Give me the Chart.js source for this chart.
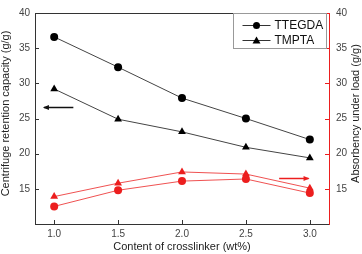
<!DOCTYPE html>
<html><head><meta charset="utf-8">
<script src="https://cdn.jsdelivr.net/npm/chart.js@4"></script>
<style>html,body{margin:0;padding:0;background:#fff}#w{width:362px;height:254px;position:relative}</style>
</head><body><div id="w"><canvas id="c" width="362" height="254"></canvas></div>
<script>
const crosslinker = [1.0, 1.5, 2.0, 2.5, 3.0];
const crcTTEGDA = [36.6, 32.3, 27.9, 25.0, 22.0];
const crcTMPTA = [29.2, 24.9, 23.1, 20.9, 19.4];
const aulTTEGDA = [12.5, 14.8, 16.1, 16.4, 14.4];
const aulTMPTA = [13.9, 15.8, 17.4, 17.1, 15.1];
const xTicks = [1.0, 1.5, 2.0, 2.5, 3.0];
const yTicks = [15, 20, 25, 30, 35, 40];
const seriesNames = ['TTEGDA', 'TMPTA'];
const xTitle = 'Content of crosslinker (wt%)';
const yLeftTitle = 'Centrifuge retention capacity (g/g)';
const yRightTitle = 'Absorbency under load (g/g)';

const RED = 'rgb(236,30,30)';
const REDLINE = 'rgba(236,50,50,0.85)';
const BLK = '#000';
const pts = a => a.map((v, i) => ({x: crosslinker[i], y: v}));

const FONT = '"Liberation Sans", Arial, sans-serif';

const extras = {
  id: 'extras',
  afterDraw(chart) {
    const ctx = chart.ctx, a = chart.chartArea;
    const x = chart.scales.x, yl = chart.scales.y, yr = chart.scales.y2;
    ctx.save();
    // top border
    ctx.strokeStyle = '#333'; ctx.lineWidth = 1;
    ctx.beginPath(); ctx.moveTo(a.left, a.top + 0.5); ctx.lineTo(a.right, a.top + 0.5); ctx.stroke();
    // inward ticks
    ctx.beginPath();
    xTicks.forEach(v => { const px = Math.round(x.getPixelForValue(v)) + 0.5; ctx.moveTo(px, a.bottom); ctx.lineTo(px, a.bottom - 4); });
    yTicks.forEach(v => { const py = Math.round(yl.getPixelForValue(v)) + 0.5; ctx.moveTo(a.left, py); ctx.lineTo(a.left + 4, py); });
    ctx.stroke();
    ctx.strokeStyle = RED; ctx.beginPath();
    yTicks.forEach(v => { const py = Math.round(yr.getPixelForValue(v)) + 0.5; ctx.moveTo(a.right, py); ctx.lineTo(a.right - 4, py); });
    ctx.stroke();
    // axis titles
    ctx.fillStyle = '#222'; ctx.font = '11px ' + FONT; ctx.textAlign = 'center'; ctx.textBaseline = 'middle';
    ctx.fillText(xTitle, (a.left + a.right) / 2, 247);
    ctx.save(); ctx.translate(6, (a.top + a.bottom) / 2 - 5); ctx.rotate(-Math.PI / 2); ctx.fillText(yLeftTitle, 0, 0); ctx.restore();
    ctx.save(); ctx.translate(356, (a.top + a.bottom) / 2 - 5); ctx.rotate(-Math.PI / 2); ctx.fillText(yRightTitle, 0, 0); ctx.restore();
    // arrows
    const arrow = (x1, x2, yv, scale, col) => {
      const y = Math.round(scale.getPixelForValue(yv)) + 0.5;
      const p1 = x.getPixelForValue(x1), p2 = x.getPixelForValue(x2);
      ctx.strokeStyle = col; ctx.fillStyle = col; ctx.lineWidth = 1.5;
      ctx.beginPath(); ctx.moveTo(p1, y); ctx.lineTo(p2, y); ctx.stroke();
      const d = Math.sign(p2 - p1);
      ctx.beginPath(); ctx.moveTo(p2 + d * 1, y); ctx.lineTo(p2 - d * 5, y - 2.5); ctx.lineTo(p2 - d * 5, y + 2.5); ctx.closePath(); ctx.fill();
    };
    arrow(1.15, 0.92, 26.6, yl, '#111');
    arrow(2.76, 2.99, 16.6, yr, RED);
    // legend
    const lx = Math.round(x.getPixelForValue(2.40)) + 0.5, rx = a.right - 2.5;
    ctx.fillStyle = '#fff';
    ctx.fillRect(lx, a.top + 0.5, rx - lx, 35);
    ctx.strokeStyle = '#999'; ctx.lineWidth = 1;
    ctx.strokeRect(lx, a.top + 0.5, rx - lx, 35);
    ctx.font = '12px ' + FONT; ctx.textAlign = 'left'; ctx.fillStyle = '#111';
    seriesNames.forEach((n, i) => {
      const y = a.top + 12 + i * 15;
      ctx.strokeStyle = '#333'; ctx.lineWidth = 1;
      ctx.beginPath(); ctx.moveTo(lx + 9, y + 0.5); ctx.lineTo(lx + 37, y + 0.5); ctx.stroke();
      ctx.fillStyle = '#000';
      ctx.beginPath();
      if (i === 0) { ctx.arc(lx + 23, y + 0.5, 3.5, 0, Math.PI * 2); }
      else { ctx.moveTo(lx + 23, y - 3.5); ctx.lineTo(lx + 27, y + 3.5); ctx.lineTo(lx + 19, y + 3.5); ctx.closePath(); }
      ctx.fill();
      ctx.fillStyle = '#111';
      ctx.fillText(n, lx + 41, y + 1);
    });
    ctx.restore();
  }
};

const ds = (label, data, axis, pstyle, col, lcol) => ({
  label, data: pts(data), yAxisID: axis, borderColor: lcol, backgroundColor: col,
  pointBackgroundColor: col, pointBorderColor: col, pointStyle: pstyle,
  pointRadius: pstyle === 'triangle' ? 4.5 : 4, pointBorderWidth: 0, borderWidth: 1, tension: 0
});

new Chart(document.getElementById('c'), {
  type: 'line',
  data: { datasets: [
    ds(seriesNames[0], crcTTEGDA, 'y', 'circle', BLK, '#444'),
    ds(seriesNames[1], crcTMPTA, 'y', 'triangle', BLK, '#444'),
    ds(seriesNames[0] + ' AUL', aulTTEGDA, 'y2', 'circle', RED, REDLINE),
    ds(seriesNames[1] + ' AUL', aulTMPTA, 'y2', 'triangle', RED, REDLINE)
  ]},
  options: {
    responsive: false, animation: false, devicePixelRatio: 1,
    layout: { padding: { top: 8, left: 0, right: 0, bottom: 0 } },
    plugins: { legend: { display: false }, tooltip: { enabled: false } },
    scales: {
      x: {
        type: 'linear', min: 0.85, max: 3.15,
        afterBuildTicks: s => { s.ticks = xTicks.map(v => ({value: v})); },
        afterFit: s => { s.height = 30; },
        grid: { display: true, drawOnChartArea: false, drawTicks: false },
        border: { color: '#333', width: 1 },
        ticks: { padding: 4, color: '#444', font: { size: 10, family: FONT }, callback: v => Number(v).toFixed(1) }
      },
      y: {
        position: 'left', min: 10, max: 40,
        afterBuildTicks: s => { s.ticks = yTicks.map(v => ({value: v})); },
        afterFit: s => { s.width = 35; },
        grid: { drawOnChartArea: false, drawTicks: false },
        border: { color: '#333', width: 1 },
        ticks: { padding: 5, color: '#444', font: { size: 10, family: FONT } }
      },
      y2: {
        position: 'right', min: 10, max: 40,
        afterBuildTicks: s => { s.ticks = yTicks.map(v => ({value: v})); },
        afterFit: s => { s.width = 33; },
        grid: { drawOnChartArea: false, drawTicks: false },
        border: { color: RED, width: 1 },
        ticks: { padding: 7, color: '#444', font: { size: 10, family: FONT } }
      }
    }
  },
  plugins: [extras]
});
</script></body></html>
